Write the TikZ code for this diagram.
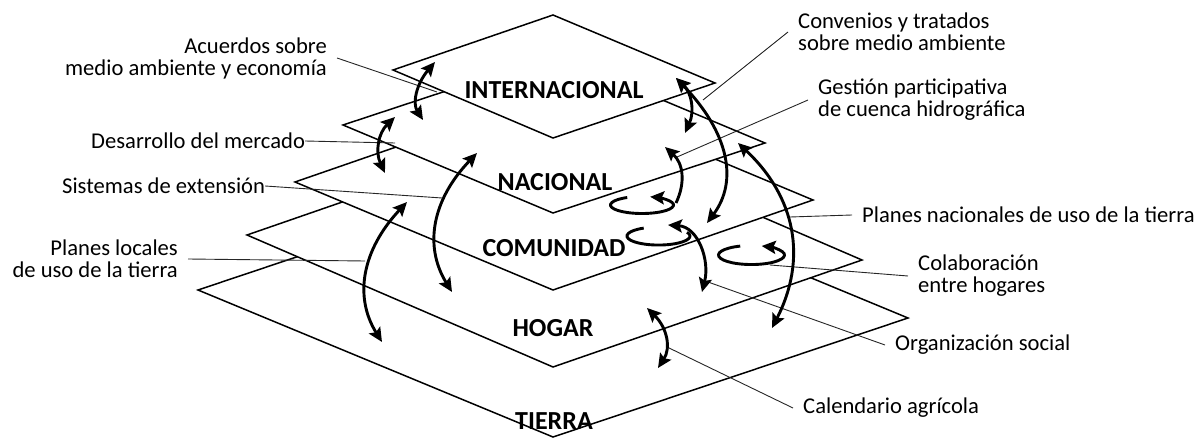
\documentclass[tikz,border=0pt]{standalone}
\usepackage{fontspec}
\setmainfont{Carlito}
\usetikzlibrary{arrows.meta, positioning, calc}

\begin{document}
\begin{tikzpicture}[x=1pt, y=-1pt,
    plane/.style={draw, fill=white, line width=1.5pt, line join=miter},
    layertxt/.style={font=\fontsize{26}{26}\selectfont\bfseries, inner sep=0pt},
    lbl/.style={font=\fontsize{22.6}{22}\selectfont, inner xsep=10pt, inner ysep=1pt},
    leader/.style={draw=black!85, line width=0.9pt},
    link/.style={line width=2.9pt, {Stealth[length=14pt,width=13pt,inset=2.5pt]}-{Stealth[length=14pt,width=13pt,inset=2.5pt]}},
    uplink/.style={line width=2.9pt, -{Stealth[length=14pt,width=13pt,inset=2.5pt]}},
    whirl/.style={line width=2.9pt}
]
    \useasboundingbox (0,0) rectangle (1198,438);

    % Planes, drawn from the ground upwards so the upper ones cover the lower ones
    \draw[plane] (198,290) -- (553,171) -- (908,318) -- (553,437) -- cycle;
    \draw[plane] (247,235) -- (556,128) -- (862,260) -- (553,367) -- cycle;
    \draw[plane] (295,182) -- (555,92) -- (813,200) -- (553,290) -- cycle;
    \draw[plane] (343,125) -- (555,55) -- (765,143) -- (553,213) -- cycle;
    \draw[plane] (393,70) -- (553,15) -- (715,83) -- (553,138) -- cycle;

    % Level names
    \node[layertxt] (intl) at (554,90) {INTERNACIONAL};
    \node[layertxt] (nac) at (555,182) {NACIONAL};
    \node[layertxt] (com) at (554,248) {COMUNIDAD};
    \node[layertxt] (hog) at (553,328) {HOGAR};
    \node[layertxt] (tie) at (554,421) {TIERRA};

    % Labels on the left
    \node[lbl, anchor=east, align=right] (acuerdos) at (337,58) {Acuerdos sobre\\medio ambiente y economía};
    \node[lbl, anchor=west, inner xsep=0pt] (mercado) at (91,141) {Desarrollo del mercado};
    \node[lbl, anchor=west, inner xsep=0pt] (extension) at (62,186) {Sistemas de extensión};
    \node[lbl, anchor=east, align=right] (planes_loc) at (188,259) {Planes locales\\de uso de la tierra};

    % Labels on the right
    \node[lbl, anchor=west, align=left] (convenios) at (788,32) {Convenios y tratados\\sobre medio ambiente};
    \node[lbl, anchor=west, align=left] (gestion) at (808,100) {Gestión participativa\\de cuenca hidrográfica};
    \node[lbl, anchor=west] (planes_nac) at (852,215) {Planes nacionales de uso de la tierra};
    \node[lbl, anchor=west, align=left] (colab) at (908,276) {Colaboración\\entre hogares};
    \node[lbl, anchor=west] (social) at (885,345) {Organización social};
    \node[lbl, anchor=west] (calendario) at (793,408) {Calendario agrícola};

    % Arrow end points
    \coordinate (acuerdos_a) at (435,62);
    \coordinate (acuerdos_b) at (423,120);
    \coordinate (mercado_a) at (395,117);
    \coordinate (mercado_b) at (385,173);
    \coordinate (extension_a) at (477,153);
    \coordinate (extension_b) at (452,292);
    \coordinate (planes_loc_a) at (407,202);
    \coordinate (planes_loc_b) at (382,342);
    \coordinate (convenios_a) at (676,78);
    \coordinate (convenios_b) at (685,133);
    \coordinate (convenios_c) at (707,223);
    \coordinate (planes_nac_a) at (738,143);
    \coordinate (planes_nac_b) at (772,328);
    \coordinate (calendario_a) at (647,308);
    \coordinate (calendario_b) at (658,368);
    \coordinate (gestion_a) at (676,203);
    \coordinate (gestion_b) at (665,147);
    \coordinate (social_a) at (668,225);
    \coordinate (social_b) at (702,292);

    % Loop start points
    \coordinate (nac_loop) at (627.2,197.5);
    \coordinate (com_loop) at (643.7,228.1);
    \coordinate (hog_loop) at (740.2,246.1);

    % Leader ends
    \coordinate (acuerdos_end) at (437,92);
    \coordinate (mercado_end) at (395,143);
    \coordinate (extension_end) at (442,198);
    \coordinate (planes_loc_end) at (365,261);
    \coordinate (convenios_end) at (703,100);
    \coordinate (gestion_end) at (677,157);
    \coordinate (planes_nac_end) at (790,217);
    \coordinate (colab_end) at (770,265);
    \coordinate (social_end) at (708,282);
    \coordinate (calendario_end) at (667,347);

    % Leaders
    \draw[leader] (acuerdos.east) -- (acuerdos_end);
    \draw[leader] (mercado.east) -- (mercado_end);
    \draw[leader] (extension.east) -- (extension_end);
    \draw[leader] (planes_loc.east) -- (planes_loc_end);
    \draw[leader] (convenios.west) -- (convenios_end);
    \draw[leader] (gestion.west) -- (gestion_end);
    \draw[leader] (planes_nac.west) -- (planes_nac_end);
    \draw[leader] (colab.west) -- (colab_end);
    \draw[leader] (social.west) -- (social_end);
    \draw[leader] (calendario.west) -- (calendario_end);

    % Links between levels
    \draw[link] (acuerdos_a) .. controls +(-18.7,22) and +(-10.7,-16.7) .. (acuerdos_b);
    \draw[link] (mercado_a) .. controls +(-16.7,16) and +(-10,-21.3) .. (mercado_b);
    \draw[link] (extension_a) .. controls +(-45,47) and +(-28.3,-45.7) .. (extension_b);
    \draw[link] (planes_loc_a) .. controls +(-45,48) and +(-28.3,-45.3) .. (planes_loc_b);
    \draw[link] (convenios_a) .. controls +(15.7,15) and +(9.7,-21.7) .. (convenios_b);
    \draw[link] (convenios_a) .. controls +(52.3,54.3) and +(31.7,-42.3) .. (convenios_c);
    \draw[link] (planes_nac_a) .. controls +(58,54.3) and +(35.3,-69) .. (planes_nac_b);
    \draw[link] (calendario_a) .. controls +(20.3,20) and +(13,-20) .. (calendario_b);
    \draw[uplink] (gestion_a) .. controls +(9.7,-20.3) and +(18.3,16.3) .. (gestion_b);
    \draw[link] (social_a) .. controls +(30,2) and +(8,-32) .. (social_b);

    % Loops within a level
    \draw[whirl, -{Stealth[length=14pt,width=13pt,inset=2.5pt]}] (nac_loop) arc[start angle=242, end angle=-75, x radius=31.5, y radius=8.5];
    \draw[whirl] (com_loop) arc[start angle=242, end angle=-25, x radius=31.5, y radius=9];
    \draw[whirl, -{Stealth[length=14pt,width=13pt,inset=2.5pt]}] (hog_loop) arc[start angle=250, end angle=-72, x radius=33, y radius=9.5];

\end{tikzpicture}
\end{document}
